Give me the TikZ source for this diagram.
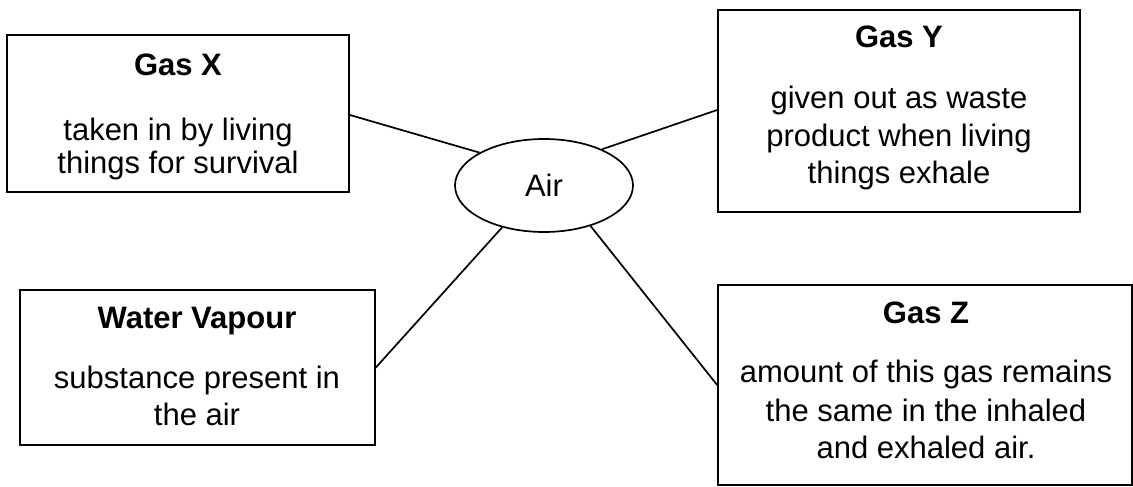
\documentclass[tikz,border=0pt]{standalone}
\usepackage{fontspec}
\setmainfont{Liberation Sans}
\usetikzlibrary{shapes.geometric}
\begin{document}
\begin{tikzpicture}[x=1pt,y=-1pt,
  box/.style={draw,line width=1.7pt,rectangle,inner sep=0pt},
  title/.style={anchor=base,inner sep=0pt,font=\fontsize{31}{36}\selectfont\bfseries},
  body/.style={anchor=base,inner sep=0pt,font=\fontsize{31}{36}\selectfont},
  link/.style={line width=1.7pt}]
\useasboundingbox (0,0) rectangle (1133,487);
% boxes
\node[box,minimum width=342pt,minimum height=157pt] (gx) at (178,113.5) {};
\node[box,minimum width=362pt,minimum height=202pt] (gy) at (899,111) {};
\node[box,minimum width=355pt,minimum height=155pt] (wv) at (197.5,367.5) {};
\node[box,minimum width=414pt,minimum height=200pt] (gz) at (925,385) {};
% centre
\node[draw,ellipse,line width=1.7pt,minimum width=178pt,minimum height=93pt,inner sep=0pt,
      font=\fontsize{31}{36}\selectfont] (air) at (544,185.5) {Air};
% Gas X
\node[title] (gxt) at (178,75) {Gas X};
\node[body] (gx1) at (178,140) {taken in by living};
\node[body] (gx2) at (178,173) {things for survival};
% Gas Y
\node[title] (gyt) at (899,48) {Gas Y};
\node[body] (gy1) at (899,108) {given out as waste};
\node[body] (gy2) at (899,146) {product when living};
\node[body] (gy3) at (899,183) {things exhale};
% Water Vapour
\node[title] (wvt) at (197,328) {Water Vapour};
\node[body] (wv1) at (197,388) {substance present in};
\node[body] (wv2) at (197,425) {the air};
% Gas Z
\node[title] (gzt) at (926,323) {Gas Z};
\node[body] (gz1) at (926,382) {amount of this gas remains};
\node[body] (gz2) at (926,421) {the same in the inhaled};
\node[body] (gz3) at (926,458) {and exhaled air.};
% connectors
\draw[link] ([yshift=-1.5pt]gx.east) -- (air.153.8);
\draw[link] ([yshift=1pt]gy.west) -- (air.32.4);
\draw[link] (wv.east) -- (air.225.3);
\draw[link] (gz.west) -- (air.319.2);
\end{tikzpicture}
\end{document}
